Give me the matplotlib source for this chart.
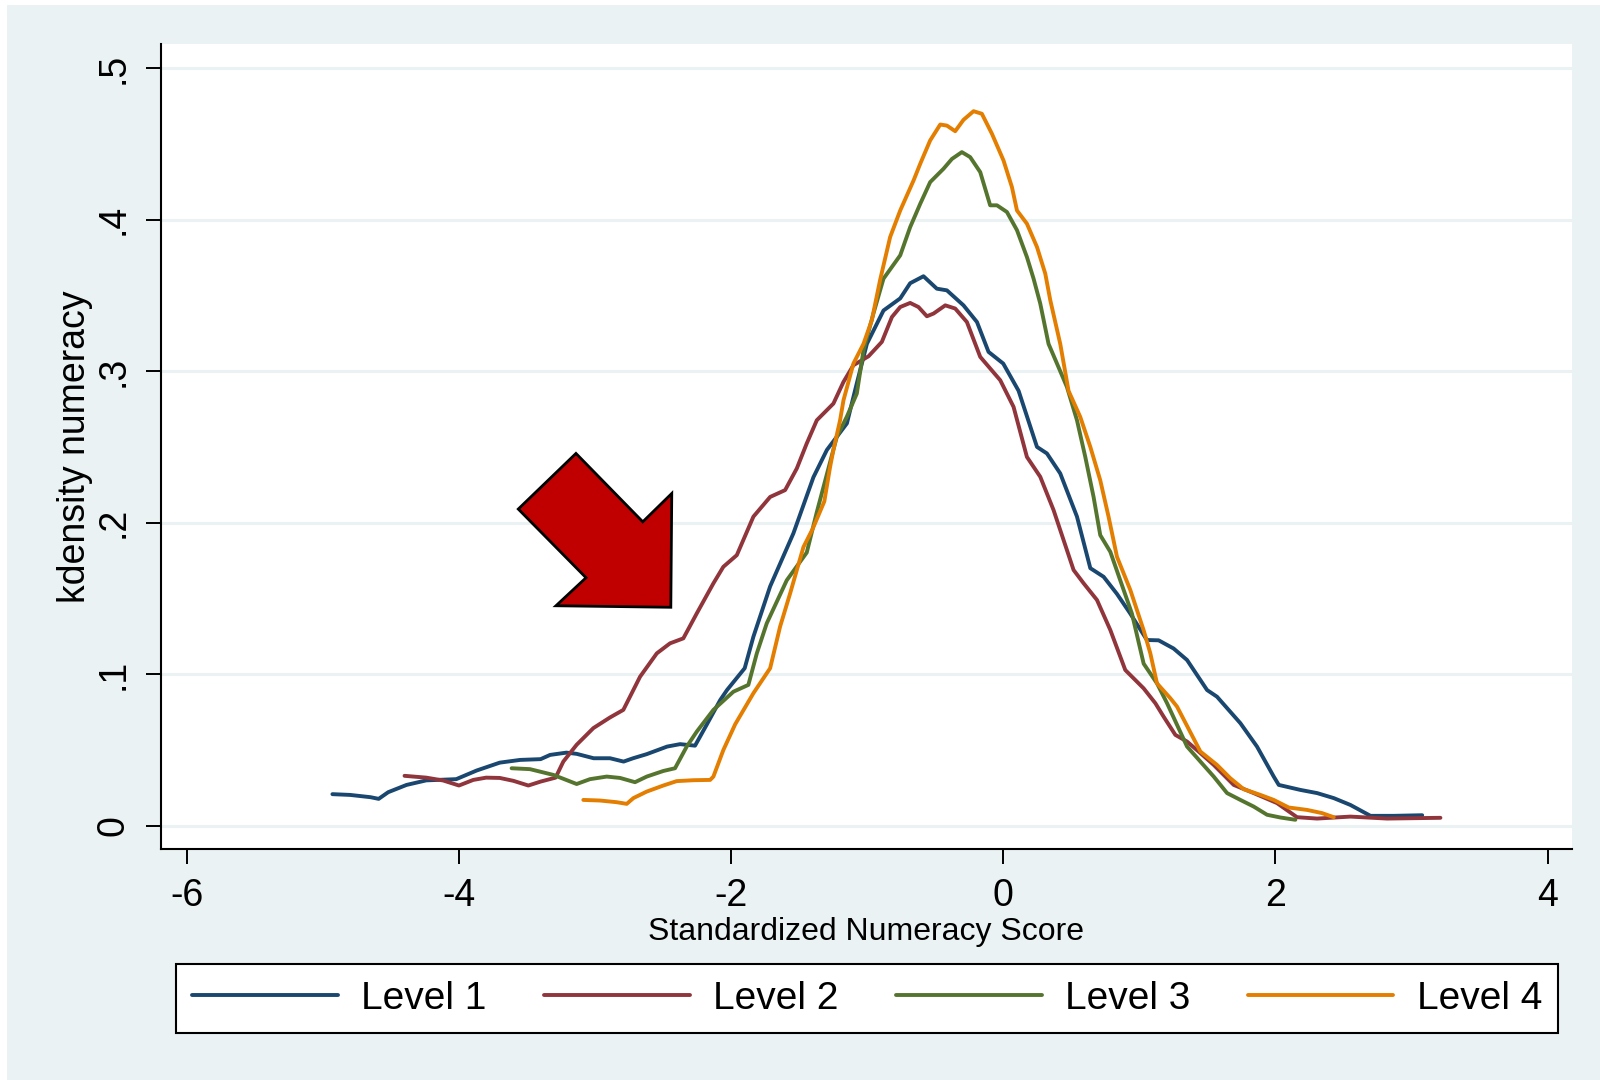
import matplotlib
matplotlib.use("Agg")
import matplotlib.pyplot as plt
from matplotlib.patches import Polygon, Rectangle

plt.rcParams['font.family'] = ['Liberation Sans', 'DejaVu Sans']
plt.rcParams['axes.unicode_minus'] = False

# kernel density estimates
level1_x = [-4.93, -4.80, -4.65, -4.59, -4.52, -4.385, -4.24, -4.02, -3.87, -3.70,
            -3.55, -3.40, -3.33, -3.21, -3.135, -3.01, -2.89, -2.79, -2.72, -2.62,
            -2.47, -2.375, -2.265, -2.18, -2.08, -2.03, -1.90, -1.836, -1.713, -1.542,
            -1.395, -1.296, -1.149, -1.076, -1.002, -0.880, -0.757, -0.684, -0.586, -0.488,
            -0.414, -0.292, -0.193, -0.108, 0.0, 0.113, 0.248, 0.321, 0.419, 0.542,
            0.640, 0.738, 0.836, 0.934, 1.056, 1.142, 1.252, 1.351, 1.498, 1.571,
            1.743, 1.865, 1.988, 2.025, 2.184, 2.307, 2.429, 2.551, 2.699, 2.870, 3.079]
level1_y = [0.0209, 0.0204, 0.0189, 0.0178, 0.0222, 0.027, 0.030, 0.0308, 0.0365, 0.0417,
            0.0435, 0.044, 0.0468, 0.0483, 0.0475, 0.0446, 0.0446, 0.0424, 0.0446, 0.0473,
            0.0523, 0.0539, 0.0529, 0.0666, 0.083, 0.0896, 0.104, 0.1248, 0.158, 0.193,
            0.230, 0.248, 0.2655, 0.292, 0.318, 0.340, 0.348, 0.358, 0.3626, 0.3544,
            0.3533, 0.3434, 0.3324, 0.3127, 0.305, 0.287, 0.250, 0.2457, 0.2325, 0.204,
            0.170, 0.1643, 0.153, 0.140, 0.1226, 0.1224, 0.117, 0.1094, 0.0896, 0.0852,
            0.0677, 0.0523, 0.0325, 0.027, 0.0237, 0.0216, 0.0183, 0.0138, 0.0066, 0.0066, 0.0070]

level2_x = [-4.40, -4.24, -4.115, -4.00, -3.895, -3.80, -3.70, -3.60, -3.49, -3.40,
            -3.29, -3.233, -3.135, -3.012, -2.890, -2.792, -2.669, -2.546, -2.449, -2.351,
            -2.252, -2.130, -2.057, -1.958, -1.836, -1.713, -1.603, -1.517, -1.444, -1.370,
            -1.248, -1.174, -1.101, -0.990, -0.892, -0.818, -0.757, -0.684, -0.623, -0.561,
            -0.512, -0.426, -0.353, -0.267, -0.169, -0.022, 0.076, 0.174, 0.272, 0.370,
            0.517, 0.591, 0.689, 0.787, 0.897, 1.032, 1.118, 1.179, 1.265, 1.351,
            1.449, 1.547, 1.694, 1.841, 2.012, 2.159, 2.307, 2.551, 2.821, 3.213]
level2_y = [0.033, 0.0318, 0.0299, 0.0266, 0.0303, 0.0318, 0.0316, 0.0297, 0.0266, 0.0292,
            0.0318, 0.0424, 0.0535, 0.0645, 0.0715, 0.0765, 0.0984, 0.1138, 0.1204, 0.1237,
            0.1402, 0.160, 0.1709, 0.1786, 0.204, 0.217, 0.2215, 0.2358, 0.2523, 0.2676,
            0.2786, 0.2929, 0.3039, 0.3098, 0.3193, 0.3357, 0.3423, 0.345, 0.3423, 0.3362,
            0.338, 0.3434, 0.3413, 0.3324, 0.3094, 0.294, 0.2764, 0.2434, 0.2303, 0.2083,
            0.1688, 0.160, 0.149, 0.1292, 0.1028, 0.0907, 0.0809, 0.072, 0.060, 0.0556,
            0.048, 0.0402, 0.027, 0.0216, 0.015, 0.0057, 0.0048, 0.0061, 0.0048, 0.0053]

level3_x = [-3.613, -3.478, -3.306, -3.135, -3.037, -2.914, -2.816, -2.706, -2.620, -2.498,
            -2.412, -2.326, -2.252, -2.130, -1.983, -1.873, -1.811, -1.738, -1.591, -1.444,
            -1.370, -1.296, -1.223, -1.149, -1.076, -1.027, -0.954, -0.880, -0.757, -0.684,
            -0.610, -0.537, -0.439, -0.377, -0.304, -0.243, -0.169, -0.096, -0.046, 0.027,
            0.101, 0.174, 0.223, 0.272, 0.333, 0.395, 0.468, 0.542, 0.603, 0.664,
            0.713, 0.787, 0.860, 0.946, 1.032, 1.130, 1.204, 1.351, 1.449, 1.547,
            1.645, 1.743, 1.841, 1.939, 2.037, 2.147]
level3_y = [0.038, 0.0374, 0.0336, 0.0276, 0.0308, 0.0325, 0.0316, 0.0288, 0.0325, 0.0362,
            0.038, 0.0523, 0.0622, 0.0765, 0.0885, 0.093, 0.1138, 0.1336, 0.162, 0.1803,
            0.207, 0.232, 0.2566, 0.270, 0.2852, 0.3138, 0.338, 0.361, 0.3764, 0.395,
            0.4104, 0.4247, 0.4335, 0.440, 0.4445, 0.4412, 0.4313, 0.4094, 0.4094, 0.405,
            0.393, 0.3753, 0.361, 0.3446, 0.318, 0.305, 0.2896, 0.2676, 0.2434, 0.217,
            0.1918, 0.1808, 0.162, 0.140, 0.107, 0.094, 0.0809, 0.0523, 0.0424, 0.0325,
            0.0216, 0.0171, 0.0127, 0.0073, 0.0055, 0.004]

level4_x = [-3.086, -2.963, -2.841, -2.767, -2.718, -2.620, -2.498, -2.400, -2.277, -2.154,
            -2.130, -2.057, -1.970, -1.836, -1.713, -1.640, -1.566, -1.468, -1.400, -1.315,
            -1.272, -1.248, -1.199, -1.174, -1.101, -1.027, -0.966, -0.904, -0.831, -0.757,
            -0.659, -0.610, -0.537, -0.463, -0.414, -0.353, -0.292, -0.218, -0.157, -0.083,
            0.002, 0.064, 0.101, 0.174, 0.248, 0.309, 0.346, 0.419, 0.480, 0.566,
            0.640, 0.713, 0.774, 0.836, 0.934, 1.032, 1.081, 1.130, 1.228, 1.277,
            1.449, 1.571, 1.669, 1.767, 1.890, 1.988, 2.098, 2.233, 2.343, 2.429]
level4_y = [0.0171, 0.0167, 0.0156, 0.0145, 0.0183, 0.0226, 0.0266, 0.0295, 0.0301, 0.0303,
            0.0325, 0.050, 0.067, 0.0875, 0.104, 0.1314, 0.1534, 0.184, 0.196, 0.214,
            0.237, 0.248, 0.2676, 0.2808, 0.305, 0.318, 0.3335, 0.3605, 0.3885, 0.406,
            0.4258, 0.4368, 0.4522, 0.4627, 0.462, 0.4583, 0.4658, 0.4715, 0.4698, 0.4566,
            0.439, 0.4214, 0.406, 0.3973, 0.3819, 0.3643, 0.3467, 0.318, 0.287, 0.2698,
            0.250, 0.228, 0.204, 0.1775, 0.1556, 0.129, 0.1138, 0.094, 0.0842, 0.0787,
            0.049, 0.0402, 0.0314, 0.0242, 0.0204, 0.0171, 0.0121, 0.0105, 0.0084, 0.0057]

labels = ["Level 1", "Level 2", "Level 3", "Level 4"]
colors = ["#1a476f", "#90353b", "#55752f", "#e37e00"]

x_ticks = [-6, -4, -2, 0, 2, 4]
y_ticks = [0, 0.1, 0.2, 0.3, 0.4, 0.5]
y_ticklabels = ["0", ".1", ".2", ".3", ".4", ".5"]

# red arrow pointing at the left shoulder of Level 2
arrow_x = [-3.564, -3.140, -2.649, -2.436, -2.443, -3.287, -3.066]
arrow_y = [0.209, 0.2457, 0.2006, 0.2193, 0.1442, 0.1452, 0.1637]

bg = "#eaf2f3"
fig = plt.figure(figsize=(16, 10.8), dpi=100, facecolor="white")
fig.patches.append(Rectangle((7 / 1600, 0), 1, 1 - 5 / 1080, transform=fig.transFigure,
                             facecolor=bg, edgecolor="none", zorder=-10))

ax = fig.add_axes([0.1006, 0.214, 0.8819, 0.7455])
ax.set_facecolor("white")

series = [(level1_x, level1_y), (level2_x, level2_y), (level3_x, level3_y), (level4_x, level4_y)]
for (xs, ys), lab, col in zip(series, labels, colors):
    ax.plot(xs, ys, color=col, lw=2.8, label=lab, solid_joinstyle="round",
            solid_capstyle="round", zorder=3)

ax.add_patch(Polygon(list(zip(arrow_x, arrow_y)), closed=True, facecolor="#c00000",
                     edgecolor="black", lw=2.0, zorder=4))

ax.set_xlim(-6.19, 4.18)
ax.set_ylim(-0.0152, 0.516)
ax.set_xticks(x_ticks)
ax.set_yticks(y_ticks)
ax.set_yticklabels(y_ticklabels, rotation=90, va="center")
ax.tick_params(axis="both", direction="out", length=11, width=1.4, labelsize=27,
               color="black", pad=10)
ax.tick_params(axis="y", pad=10)

ax.grid(axis="y", color=bg, lw=2.2)
ax.set_axisbelow(True)
for side in ["top", "right"]:
    ax.spines[side].set_visible(False)
for side in ["left", "bottom"]:
    ax.spines[side].set_linewidth(1.5)

ax.set_xlabel("Standardized Numeracy Score", fontsize=23, labelpad=2)
ax.set_ylabel("kdensity numeracy", fontsize=27, labelpad=2)

leg = fig.legend(loc="center", bbox_to_anchor=(0.1097, 0.0426, 0.8643, 0.0657),
                 mode="expand", ncol=4, fontsize=28, handlelength=3.75,
                 handletextpad=0.6, borderpad=0.42, borderaxespad=0,
                 fancybox=False, framealpha=1, edgecolor="black")
leg.get_frame().set_linewidth(1.5)
for line in leg.get_lines():
    line.set_linewidth(2.8)

fig.savefig("out.png", dpi=100, facecolor=fig.get_facecolor())
